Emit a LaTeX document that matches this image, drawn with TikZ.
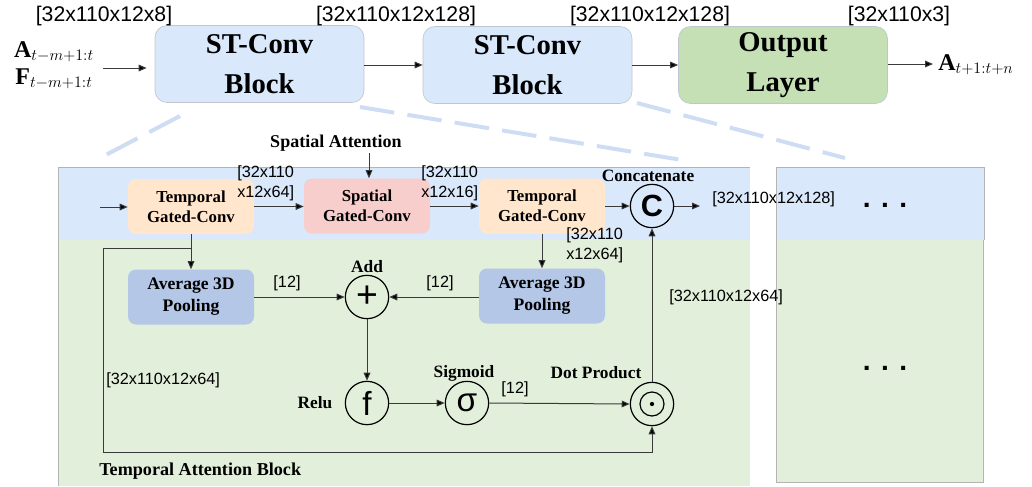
\documentclass[tikz,border=0pt]{standalone}
\usepackage{fontspec}
\setmainfont{Liberation Serif}
\newfontfamily\arial{Liberation Sans}
\usetikzlibrary{arrows.meta}
\definecolor{stblue}{HTML}{DAE8FC}
\definecolor{outgreen}{HTML}{C5E0B4}
\definecolor{tgc}{HTML}{FFE6CC}
\definecolor{sgc}{HTML}{F8CECC}
\definecolor{apool}{HTML}{B4C7E7}
\definecolor{bandblue}{HTML}{DAE8FC}
\definecolor{bandgreen}{HTML}{E2EFDA}
\definecolor{zoomline}{HTML}{CFDDF4}
\definecolor{panelgray}{HTML}{B4B4B4}
\definecolor{boxgray}{HTML}{BFC6D0}
\definecolor{linegray}{HTML}{3A3A3A}
\begin{document}
\begin{tikzpicture}[x=0.75pt,y=-0.75pt,
  stblock/.style={rectangle, rounded corners=9pt, fill=stblue, draw=boxgray, line width=0.5pt,
    minimum width=156.75pt, minimum height=57.75pt, align=center,
    font=\fontsize{21.5}{30}\selectfont\bfseries},
  ibox/.style={rectangle, rounded corners=6pt, minimum width=94.5pt, minimum height=41.25pt,
    align=center, inner sep=0pt, font=\fontsize{12.6}{15}\selectfont\bfseries},
  op/.style={circle, draw=black, line width=0.9pt, minimum size=32.5pt, inner sep=0pt,
    font=\arial\fontsize{25}{25}\selectfont},
  toplab/.style={font=\arial\fontsize{15.9}{18}\selectfont, inner sep=0pt},
  lab/.style={font=\arial\fontsize{12.2}{15}\selectfont, inner sep=0pt, align=left},
  bl/.style={font=\fontsize{13}{15}\selectfont\bfseries, inner sep=0pt},
  mathlab/.style={inner sep=0pt, font=\fontsize{18}{18}\selectfont},
  arr/.style={draw=linegray, line width=0.75pt, -{Triangle[length=6pt,width=5pt,fill=black]}},
  zoomdash/.style={draw=zoomline, line width=3pt, dash pattern=on 26pt off 10pt},
  dotsl/.style={font=\arial\bfseries\fontsize{21}{21}\selectfont, inner sep=0pt, anchor=base}
]
\useasboundingbox (0,0) rectangle (1032,486);

% panels
\fill[bandgreen] (58,240) rectangle (750,486);
\fill[bandblue] (58,167) rectangle (750,240);
\draw[panelgray, line width=0.6pt] (58,486) -- (58,167) -- (750,167);
\fill[bandgreen] (776,240) rectangle (983,482);
\fill[bandblue] (776,167) rectangle (984,240);
\draw[panelgray, line width=0.6pt] (776,482) -- (776,167) -- (984,167) -- (984,240);
\draw[panelgray, line width=0.6pt] (983,240) -- (983,482) -- (776,482);

% zoom lines
\coordinate (z1s) at (180,116); \coordinate (z1e) at (100,158);
\coordinate (z2s) at (360,107); \coordinate (z2e) at (682,160);
\coordinate (z3s) at (637,103); \coordinate (z3e) at (845,158);
\draw[zoomdash] (z1s) -- (z1e);
\draw[zoomdash] (z2s) -- (z2e);
\draw[zoomdash] (z3s) -- (z3e);

% top row
\node[stblock] (b1) at (259.5,64) {ST-Conv\\Block};
\node[stblock] (b2) at (527.5,65) {ST-Conv\\Block};
\node[stblock, fill=outgreen] (out) at (783,65) {Output\\Layer};

\node[toplab] (l1) at (104,16) {[32x110x12x8]};
\node[toplab] (l2) at (396,16) {[32x110x12x128]};
\node[toplab] (l3) at (650,16) {[32x110x12x128]};
\node[toplab] (l4) at (899,16) {[32x110x3]};

\node[mathlab, anchor=base] (inA) at (54,57) {$\mathbf{A}_{t-m+1:t}$};
\node[mathlab, anchor=base] (inF) at (54,84) {$\mathbf{F}_{t-m+1:t}$};
\node[mathlab, anchor=base west] (outA) at (938,70) {$\mathbf{A}_{t+1:t+n}$};

\coordinate (inS) at (103,68);
\draw[arr, shorten >=6pt] (inS) -- (b1.west |- inS);
\draw[arr] (b1.east |- 0,65) -- (b2.west |- 0,65);
\draw[arr] (b2.east |- 0,65) -- (out.west |- 0,65);
\coordinate (outT) at (933,64);
\draw[arr] (out.east |- outT) -- (outT);

% inner row
\node[ibox, fill=tgc] (tg1) at (191,206.5) {Temporal\\Gated-Conv};
\node[ibox, fill=sgc] (sg) at (367,206) {Spatial\\Gated-Conv};
\node[ibox, fill=tgc] (tg2) at (542,206) {Temporal\\Gated-Conv};
\node[ibox, fill=apool, font=\fontsize{13.2}{16.5}\selectfont\bfseries] (ap1) at (191,297) {Average 3D\\Pooling};
\node[ibox, fill=apool, font=\fontsize{13.2}{16.5}\selectfont\bfseries] (ap2) at (542,296) {Average 3D\\Pooling};

\node[op, font=\arial\fontsize{28}{28}\selectfont] (add) at (367,297) {+};
\node[op, font=\arial\bfseries\fontsize{23}{23}\selectfont] (cat) at (652,206) {C};
\node[op] (relu) at (367,403) {f};
\node[op] (sig) at (467,403) {σ};
\node[op] (dot) at (652,404) {};
\draw[line width=0.9pt] (dot.center) circle[radius=9pt];
\fill (dot.center) circle[radius=1.6pt];

% labels
\node[bl, font=\fontsize{13.5}{15}\selectfont\bfseries] (sa) at (336,143) {Spatial Attention};
\node[bl] (catl) at (648,176) {Concatenate};
\node[bl] (addl) at (367,267) {Add};
\node[bl] (relul) at (315,403) {Relu};
\node[bl] (sigl) at (464,373) {Sigmoid};
\node[bl] (dotl) at (596,373) {Dot Product};
\node[bl, anchor=west, font=\fontsize{13.6}{15}\selectfont\bfseries] (tab) at (99,471) {Temporal Attention Block};

\node[lab, anchor=west] (d1) at (237,183) {[32x110\\x12x64]};
\node[lab, anchor=west] (d2) at (421,183) {[32x110\\x12x16]};
\node[lab, anchor=west] (d3) at (566,245) {[32x110\\x12x64]};
\node[lab, anchor=west] (d4) at (712,199) {[32x110x12x128]};
\node[lab, anchor=west] (d5) at (669,297) {[32x110x12x64]};
\node[lab, anchor=west] (d6) at (106,380) {[32x110x12x64]};
\node[lab] (d7) at (287,283) {[12]};
\node[lab] (d8) at (440,283) {[12]};
\node[lab] (d9) at (515,389) {[12]};

\node[dotsl] (dots1) at (885,207.5) {. . .};
\node[dotsl] (dots2) at (885,370.5) {. . .};

% connectors
\coordinate (inS2) at (100,207);
\draw[arr] (inS2) -- (tg1.west |- inS2);
\draw[arr] (tg1.east) -- (sg.west |- tg1.east);
\draw[arr] (sg.east) -- (tg2.west |- sg.east);
\draw[arr] (tg2.east) -- (cat.west);
\coordinate (catOut) at (700,206);
\draw[arr] (cat.east) -- (catOut);
\coordinate (saS) at (369,153);
\draw[arr] (saS) -- (saS |- sg.north);
\draw[arr] (tg1.south) -- (ap1.north);
\draw[arr] (tg2.south) -- (ap2.north);
\draw[arr] (ap1.east |- add) -- (add.west);
\draw[arr] (ap2.west |- add) -- (add.east);
\draw[arr] (add.south) -- (relu.north);
\draw[arr] (relu.east) -- (sig.west);
\draw[arr] (sig.east) -- (dot.west);
\draw[arr] (dot.north) -- (cat.south);
\coordinate (fbL) at (103,248);
\coordinate (fbB) at (103,452);
\draw[arr] (tg1.south |- fbL) -- (fbL) -- (fbB) -| (dot.south);
\end{tikzpicture}
\end{document}
